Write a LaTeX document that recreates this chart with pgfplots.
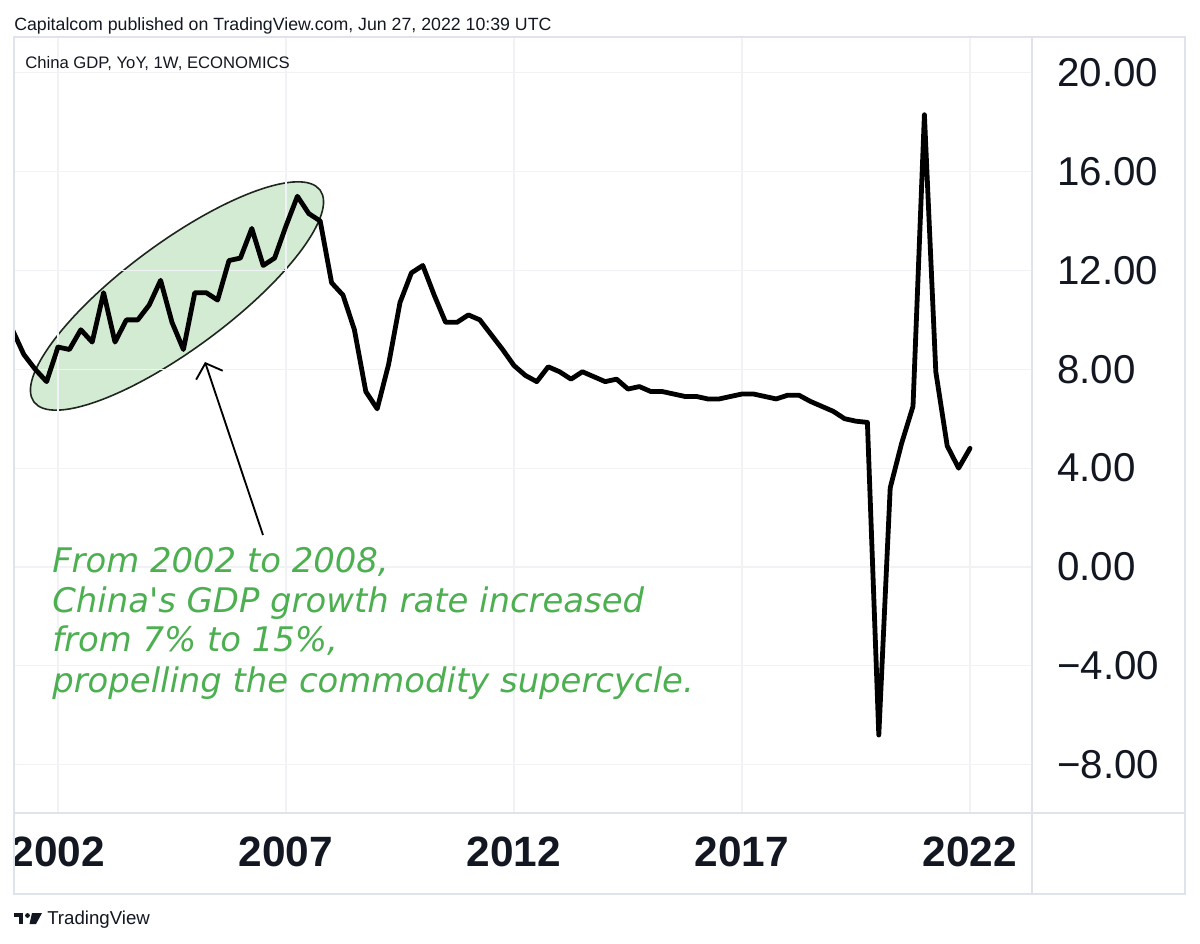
\documentclass[border=0pt]{standalone}
\usepackage{pgfplots}
\pgfplotsset{compat=1.18}
\usepackage{pgfplotstable}
\usepackage{fontspec}
\setmainfont{Liberation Sans}
\newfontfamily\annotfont{DejaVu Sans}[Ligatures=TeXOff]
\usetikzlibrary{arrows.meta}
\definecolor{tvtext}{HTML}{131722}
\definecolor{tvgrid}{HTML}{F1F2F5}
\definecolor{tvborder}{HTML}{E0E3EB}
\definecolor{annot}{HTML}{4CAF50}
\definecolor{ellfill}{HTML}{D4EBD3}
\definecolor{ellline}{HTML}{1E261E}

\pgfplotstableread{
x y
2001.00 9.6
2001.25 8.6
2001.50 8.0
2001.75 7.5
2002.00 8.9
2002.25 8.8
2002.50 9.6
2002.75 9.1
2003.00 11.1
2003.25 9.1
2003.50 10.0
2003.75 10.0
2004.00 10.6
2004.25 11.6
2004.50 9.9
2004.75 8.8
2005.00 11.1
2005.25 11.1
2005.50 10.8
2005.75 12.4
2006.00 12.5
2006.25 13.7
2006.50 12.2
2006.75 12.5
2007.00 13.8
2007.25 15.0
2007.50 14.3
2007.75 14.0
2008.00 11.5
2008.25 11.0
2008.50 9.6
2008.75 7.1
2009.00 6.4
2009.25 8.2
2009.50 10.7
2009.75 11.9
2010.00 12.2
2010.25 11.0
2010.50 9.9
2010.75 9.9
2011.00 10.2
2011.25 10.0
2011.50 9.4
2011.75 8.8
2012.00 8.15
2012.25 7.75
2012.50 7.5
2012.75 8.1
2013.00 7.9
2013.25 7.6
2013.50 7.9
2013.75 7.7
2014.00 7.5
2014.25 7.6
2014.50 7.2
2014.75 7.3
2015.00 7.1
2015.25 7.1
2015.50 7.0
2015.75 6.9
2016.00 6.9
2016.25 6.8
2016.50 6.8
2016.75 6.9
2017.00 7.0
2017.25 7.0
2017.50 6.9
2017.75 6.8
2018.00 6.95
2018.25 6.95
2018.50 6.7
2018.75 6.5
2019.00 6.3
2019.25 6.0
2019.50 5.9
2019.75 5.85
2020.00 -6.8
2020.25 3.2
2020.50 5.0
2020.75 6.5
2021.00 18.3
2021.25 7.9
2021.50 4.9
2021.75 4.0
2022.00 4.8
}\gdp

\begin{document}
\begin{tikzpicture}[x=0.75pt,y=-0.75pt]
\fill[white] (0,0) rectangle (1200,944);
\path[use as bounding box] (0,0) rectangle (1200,944);

% highlighted region
\begin{scope}[shift={(132.75pt,-222pt)}, rotate=36.5]
  \filldraw[fill=ellfill, draw=ellline, line width=1.2pt] (0pt,0pt) ellipse [x radius=133.5pt, y radius=39.8pt];
\end{scope}

\begin{axis}[
  at={(10.5pt,-27.75pt)}, anchor=north west,
  width=763.5pt, height=582pt, scale only axis,
  xmin=2001.0351, xmax=2023.3596, ymin=-9.954, ymax=21.445,
  axis line style={draw=none},
  tick style={draw=none},
  major tick length=0pt,
  xtick={2002,2007,2012,2017,2022},
  xticklabels={2002,2007,2012,2017,2022},
  ytick={-8,-4,0,4,8,12,16,20},
  yticklabels={−8.00,−4.00,0.00,4.00,8.00,12.00,16.00,20.00},
  yticklabel pos=right,
  grid=major,
  major grid style={color=tvgrid, line width=0.8pt},
  xticklabel style={font=\fontsize{31.8pt}{33pt}\selectfont\bfseries, text=tvtext, anchor=base, inner sep=0pt, yshift=-39.75pt},
  yticklabel style={font=\fontsize{30.2pt}{32pt}\selectfont, text=tvtext, anchor=west, inner sep=0pt, xshift=18.75pt},
]
\addplot[black, line width=3.6pt, line join=round, line cap=round, no markers] table[x=x, y=y] {\gdp};
\end{axis}

% cover label overflow left of the frame
\fill[white] (0,814) rectangle (13.4,893);

% frame
\draw[tvborder, line width=1.1pt] (14,37) rectangle (1185,894);
\draw[tvborder, line width=1.1pt] (1032,37) -- (1032,894);
\draw[tvborder, line width=1.3pt] (14,813) -- (1185,813);

% header texts
\node[anchor=base west, inner sep=0pt, text=tvtext, font=\fontsize{13.3pt}{15pt}\selectfont] at (14,30.7) {Capitalcom published on TradingView.com, Jun 27, 2022 10:39 UTC};
\node[anchor=base west, inner sep=0pt, text=tvtext, font=\fontsize{12.5pt}{14pt}\selectfont] at (25,68.3) {China GDP, YoY, 1W, ECONOMICS};

% arrow
\draw[black, line width=1.4pt, -{Straight Barb[length=9.5pt, width=21pt]}] (263,535) -- (205,362);

% annotation
\begin{scope}[every node/.style={anchor=base west, inner sep=0pt, text=annot, font=\annotfont\itshape\fontsize{25.4pt}{28pt}\selectfont}]
\node at (52,573) {From 2002 to 2008,};
\node at (52,613) {China's GDP growth rate increased};
\node at (52,652) {from 7\% to 15\%,};
\node at (52,692) {propelling the commodity supercycle.};
\end{scope}

% TradingView logo
\fill[tvtext] (14,913) rectangle (23,917);
\fill[tvtext] (19,913) rectangle (23,924);
\fill[tvtext] (27.5,915.5) circle [radius=1.8pt];
\fill[tvtext] (32,913) -- (42,913) -- (36,924) -- (29.5,924) -- cycle;
\node[anchor=base west, inner sep=0pt, text=tvtext, font=\fontsize{14pt}{16pt}\selectfont] at (47,924) {TradingView};
\end{tikzpicture}
\end{document}
